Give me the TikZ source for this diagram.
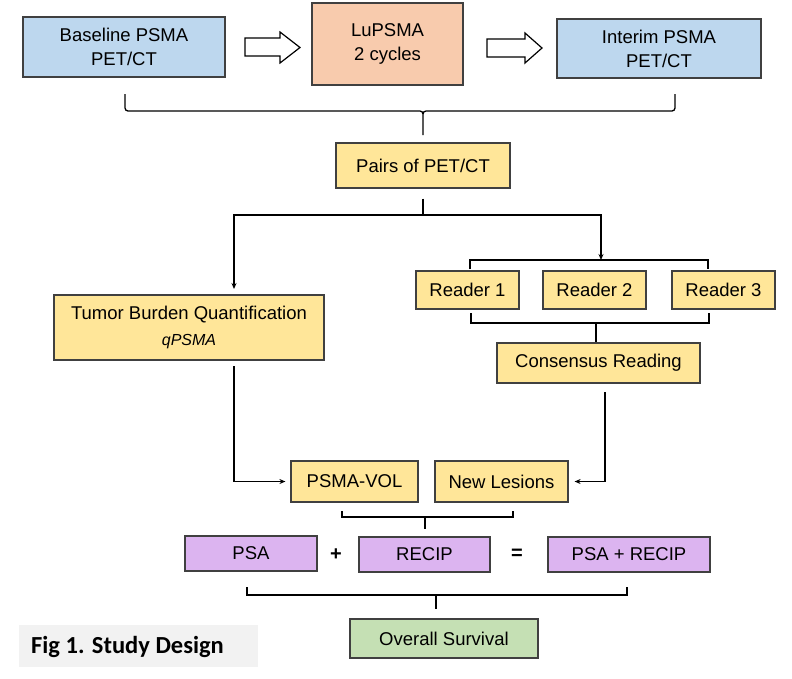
\documentclass[tikz,border=0pt]{standalone}
\usepackage{fontspec}
\setmainfont{Liberation Sans}
\newfontfamily\capfont{Carlito}
\usetikzlibrary{arrows.meta}
\definecolor{cblue}{HTML}{BDD7EE}
\definecolor{csalmon}{HTML}{F8CBAD}
\definecolor{cyellow}{HTML}{FFE699}
\definecolor{cpurple}{HTML}{DCB4F0}
\definecolor{cgreen}{HTML}{C5E0B4}
\definecolor{cgray}{HTML}{F2F2F2}
\definecolor{cborder}{HTML}{404040}
\tikzset{
  box/.style={draw=cborder, line width=1.2pt, inner sep=0pt, align=center,
    font=\fontsize{18.5}{24}\selectfont},
  conn/.style={line width=1.3pt, black},
  arr/.style={conn, -{Stealth[length=6pt,width=5pt]}},
  hollow/.style={draw=black, line width=1.2pt, fill=white, line join=miter},
}
\begin{document}
\begin{tikzpicture}[x=1pt, y=-1pt]
\useasboundingbox (0,0) rectangle (792,678);
\fill[white] (0,0) rectangle (792,678);
% top row
\node[box, fill=cblue, minimum width=202pt, minimum height=60pt] (base) at (124,47) {Baseline PSMA\\PET/CT};
\node[box, fill=csalmon, minimum width=151pt, minimum height=82pt] (lu) at (387.5,44) {LuPSMA\\2 cycles};
\node[box, fill=cblue, minimum width=204pt, minimum height=59pt] (interim) at (659,48.5) {Interim PSMA\\PET/CT};
% hollow arrows
\draw[hollow] (245,38) -- (280,38) -- (280,32) -- (300,47.5) -- (280,63) -- (280,56) -- (245,56) -- cycle;
\draw[hollow] (487,39) -- (525,39) -- (525,33) -- (542,48) -- (525,63) -- (525,57) -- (487,57) -- cycle;
% pairs
\node[box, fill=cyellow, minimum width=174pt, minimum height=45pt] (pairs) at (423,165.5) {Pairs of PET/CT};
\coordinate (bl) at (125,94);
\coordinate (br) at (675,94);
\draw[conn] (bl) -- (125,108) to[out=-90,in=180] (128,111) -- (420,111) to[out=0,in=90] (423,114) -- (423,135);
\draw[conn] (br) -- (675,108) to[out=-90,in=0] (672,111) -- (426,111) to[out=180,in=90] (423,114);
% split
\coordinate (split) at (423,215);
\draw[conn] ([yshift=-10pt]pairs.south) -- (split);
\draw[arr] (split) -- (234,215) -- (234,289);
\draw[arr] (split) -- (601,215) -- (601,260);
% readers
\node[box, fill=cyellow, minimum width=103pt, minimum height=38pt] (r1) at (467.5,290) {Reader 1};
\node[box, fill=cyellow, minimum width=103pt, minimum height=38pt] (r2) at (594.5,290) {Reader 2};
\node[box, fill=cyellow, minimum width=103pt, minimum height=38pt] (r3) at (723.5,290) {Reader 3};
\draw[conn] (470,269) -- (470,260) -- (708,260) -- (708,269);
\node[box, fill=cyellow, minimum width=203pt, minimum height=40pt] (cons) at (598.5,363) {Consensus Reading};
\draw[conn] (471,313) -- (471,323) -- (709,323) -- (709,313);
\draw[conn] (596,323) -- (cons.north -| 596,0);
% tumor
\node[box, fill=cyellow, minimum width=270pt, minimum height=65pt] (tumor) at (189,327.5) {Tumor Burden Quantification\\[2pt]{\fontsize{16}{20}\selectfont\itshape qPSMA}};
% middle row
\node[box, fill=cyellow, minimum width=127pt, minimum height=41pt] (vol) at (354.5,481.5) {PSMA-VOL};
\node[box, fill=cyellow, minimum width=133pt, minimum height=41pt] (new) at (501.5,481.5) {New Lesions};
\draw[arr] (234,366) |- ([xshift=-5pt]vol.west);
\draw[arr] (605,392) |- ([xshift=6pt]new.east);
\draw[conn] (342,511) -- (342,517) -- (513,517) -- (513,511);
\draw[conn] (425,517) -- (425,529);
% PSA row
\node[box, fill=cpurple, minimum width=132pt, minimum height=35pt] (psa) at (251,553.5) {PSA};
\node[box, fill=cpurple, minimum width=131pt, minimum height=35pt] (recip) at (424.5,554.5) {RECIP};
\node[box, fill=cpurple, minimum width=162pt, minimum height=35pt] (both) at (629,554.5) {PSA + RECIP};
\node[font=\fontsize{20}{24}\selectfont\bfseries] (plus) at (336,555) {+};
\node[font=\fontsize{20}{24}\selectfont\bfseries] (eq) at (517,554) {=};
\draw[conn] (247,587) -- (247,595) -- (627,595) -- (627,587);
\draw[conn] (436,595) -- (436,609);
% outcome
\node[box, fill=cgreen, minimum width=188pt, minimum height=39pt] (os) at (444,638.5) {Overall Survival};
% caption
\node[fill=cgray, minimum width=239pt, minimum height=42pt, inner sep=0pt] (capbox) at (138.5,646) {};
\node[anchor=west, inner sep=0pt, font=\capfont\bfseries\fontsize{24.5}{28}\selectfont] (cap) at (31,647) {Fig 1. Study Design};
\end{tikzpicture}
\end{document}
